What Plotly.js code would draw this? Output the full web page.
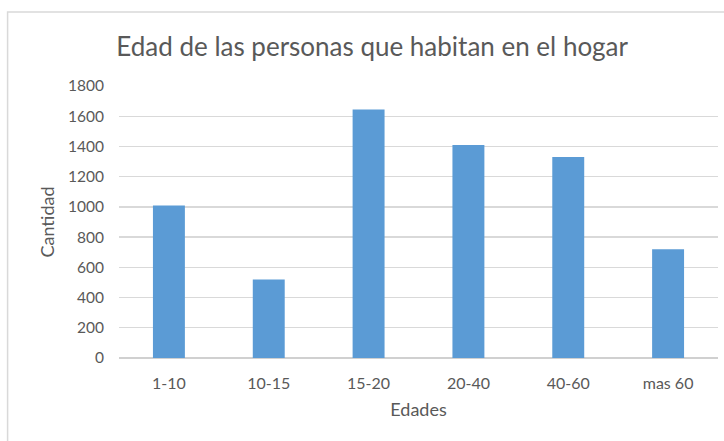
<!DOCTYPE html>
<html>
<head>
<meta charset="utf-8">
<script src="https://cdn.plot.ly/plotly-3.0.1.min.js"></script>
<style>html,body{margin:0;padding:0;background:#fff;}#chart{width:724px;height:441px;}</style>
</head>
<body>
<div id="chart"></div>
<script>
const categories = ["1-10", "10-15", "15-20", "20-40", "40-60", "mas 60"];
const cantidad = [1010, 520, 1645, 1410, 1330, 720];
const yTicks = [0, 200, 400, 600, 800, 1000, 1200, 1400, 1600, 1800];

const font = "Lato, 'Open Sans', sans-serif";
const trace = {
  type: "bar",
  x: categories,
  y: cantidad,
  marker: {color: "#5b9bd5"},
  hoverinfo: "x+y"
};
const layout = {
  width: 724, height: 441,
  margin: {l: 119, r: 6, t: 86, b: 83},
  paper_bgcolor: "#fff", plot_bgcolor: "#fff",
  bargap: 0.68,
  showlegend: false,
  font: {family: font, color: "#595959", size: 16},
  title: {text: "Edad de las personas que habitan en el hogar", font: {family: font, size: 26, color: "#595959"}, xref: "container", x: 0.514, xanchor: "center", yref: "container", y: 0.893, yanchor: "middle"},
  xaxis: {
    type: "category",
    title: {text: "Edades", font: {size: 18, color: "#595959"}, standoff: 12},
    showgrid: false, showline: false, ticks: "", ticklabelstandoff: 14,
    tickfont: {size: 16, color: "#595959"}
  },
  yaxis: {
    range: [0, 1800],
    tickvals: yTicks,
    ticktext: yTicks.map(String),
    title: {text: "Cantidad", font: {size: 18, color: "#595959"}, standoff: 8},
    showgrid: true, gridcolor: "#d9d9d9", gridwidth: 1.3,
    zeroline: true, zerolinecolor: "#d0d0d0", zerolinewidth: 1.3,
    showline: false, ticks: "", ticklabelstandoff: 14,
    tickfont: {size: 15.5, color: "#595959"}
  },
  shapes: [{type: "rect", xref: "paper", yref: "paper", x0: -0.186, x1: 1.2, y0: -0.5, y1: 1.272, line: {color: "#d9d9d9", width: 1.5}, fillcolor: "rgba(0,0,0,0)", layer: "below"}]
};
Plotly.newPlot("chart", [trace], layout, {displayModeBar: false, staticPlot: true});
</script>
</body>
</html>
